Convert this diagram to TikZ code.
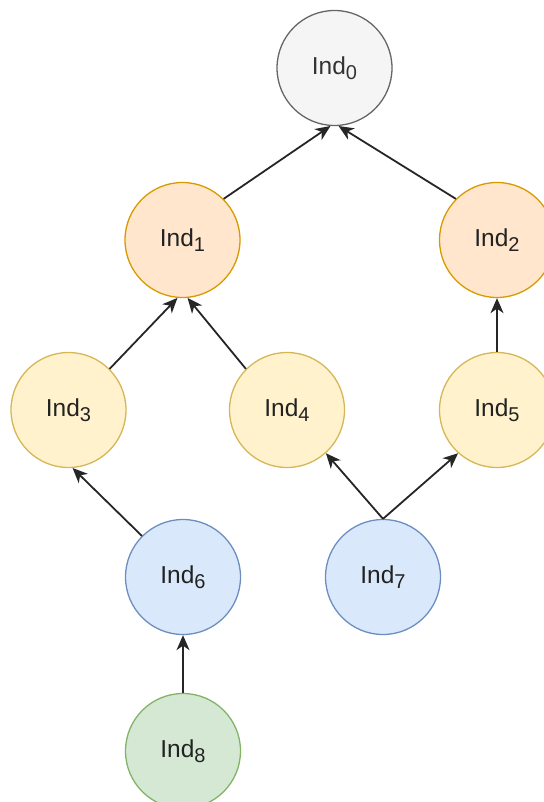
\documentclass[tikz,border=0pt]{standalone}
\usepackage{fontspec}
\setmainfont{Liberation Sans}
\usetikzlibrary{arrows.meta}
\definecolor{grayfill}{HTML}{F5F5F5}\definecolor{graydraw}{HTML}{666666}
\definecolor{orfill}{HTML}{FFE6CC}\definecolor{ordraw}{HTML}{D79B00}
\definecolor{yefill}{HTML}{FFF2CC}\definecolor{yedraw}{HTML}{D6B656}
\definecolor{blfill}{HTML}{DAE8FC}\definecolor{bldraw}{HTML}{6C8EBF}
\definecolor{grfill}{HTML}{D5E8D4}\definecolor{grdraw}{HTML}{82B366}
\definecolor{txt}{HTML}{222222}\definecolor{txtgray}{HTML}{333333}
\newcommand{\indlab}[1]{Ind\raisebox{-5pt}{\fontsize{20}{20}\selectfont #1}}
\tikzset{
  indnode/.style={circle, minimum size=115pt, inner sep=0pt, line width=1.3pt,
    font=\fontsize{24.5}{28}\selectfont, text=txt},
  gnode/.style={indnode, fill=grayfill, draw=graydraw, text=txtgray},
  onode/.style={indnode, fill=orfill, draw=ordraw},
  ynode/.style={indnode, fill=yefill, draw=yedraw},
  bnode/.style={indnode, fill=blfill, draw=bldraw},
  gnnode/.style={indnode, fill=grfill, draw=grdraw},
  link/.style={line width=1.8pt, draw=black!85, -{Stealth[length=15pt,width=13pt,inset=4.5pt]}}
}
\begin{document}
\begin{tikzpicture}[x=1pt,y=-1pt]
\useasboundingbox (0,0) rectangle (543,802);
\node[gnode] (n0) at (334.5,68) {\indlab{0}};
\node[onode] (n1) at (182.5,240) {\indlab{1}};
\node[onode] (n2) at (497,240) {\indlab{2}};
\node[ynode] (n3) at (68.5,410) {\indlab{3}};
\node[ynode] (n4) at (287,410) {\indlab{4}};
\node[ynode] (n5) at (497,410) {\indlab{5}};
\node[bnode] (n6) at (183,577) {\indlab{6}};
\node[bnode] (n7) at (383,577) {\indlab{7}};
\node[gnnode] (n8) at (183,751) {\indlab{8}};
\draw[link] (n1.45) -- (n0.-94);
\draw[link] (n2.135) -- (n0.-86);
\draw[link] (n3.45) -- (n1.-95);
\draw[link] (n4.135) -- (n1.-85);
\draw[link] (n5.north) -- (n2.south);
\draw[link] (n6.135) -- (n3.-86);
\draw[link] (n7.north) -- (n4.-48);
\draw[link] (n7.north) -- (n5.-132);
\draw[link] (n8.north) -- (n6.south);
\end{tikzpicture}
\end{document}
